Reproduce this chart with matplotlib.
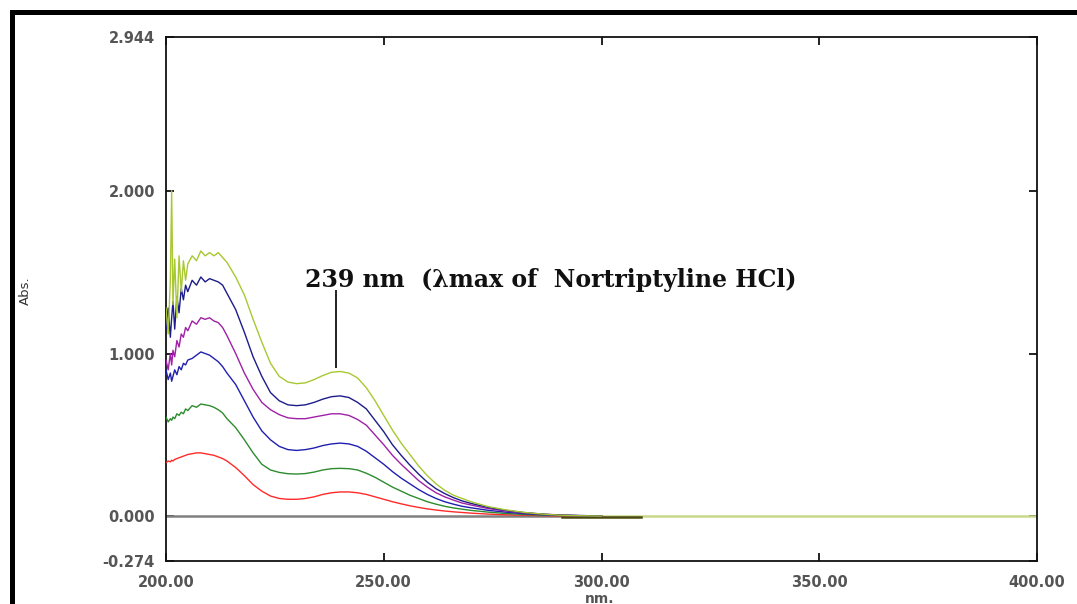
import matplotlib
matplotlib.use("Agg")
import matplotlib.pyplot as plt
from matplotlib.patches import Rectangle

# ---------------- data ----------------
WL = [200, 200.5, 201, 201.3, 201.6, 202, 202.5, 203, 203.5, 204, 204.5, 205,
      206, 207, 208, 209, 210, 211, 212, 213, 214,
      216, 218, 220, 222, 224, 226, 228, 230, 232, 234, 236, 238, 240, 242, 244,
      246, 248, 250, 252, 254, 256, 258, 260, 262, 264, 266, 268, 270,
      274, 278, 282, 286, 290, 295, 300]

ABS_6 = [1.28, 1.12, 1.45, 2.00, 1.30, 1.58, 1.22, 1.60, 1.38, 1.57, 1.45, 1.55,
         1.60, 1.57, 1.63, 1.60, 1.62, 1.60, 1.62, 1.59, 1.56,
         1.47, 1.36, 1.21, 1.07, 0.94, 0.86, 0.825, 0.815, 0.82, 0.84, 0.865, 0.885, 0.89, 0.88, 0.85,
         0.79, 0.71, 0.62, 0.53, 0.45, 0.38, 0.31, 0.25, 0.20, 0.16, 0.13, 0.11, 0.09,
         0.06, 0.04, 0.025, 0.015, 0.008, 0.004, 0.002]

ABS_5 = [1.15, 1.28, 1.10, 1.22, 1.32, 1.15, 1.35, 1.25, 1.40, 1.33, 1.42, 1.38,
         1.45, 1.42, 1.47, 1.44, 1.46, 1.45, 1.44, 1.42, 1.37,
         1.27, 1.13, 0.98, 0.86, 0.76, 0.71, 0.685, 0.68, 0.685, 0.70, 0.72, 0.735, 0.74, 0.73, 0.70,
         0.66, 0.59, 0.52, 0.44, 0.375, 0.315, 0.26, 0.21, 0.17, 0.14, 0.115, 0.095, 0.08,
         0.055, 0.037, 0.024, 0.015, 0.009, 0.005, 0.003]

ABS_4 = [0.96, 0.90, 1.00, 0.93, 1.02, 0.98, 1.08, 1.04, 1.12, 1.10, 1.16, 1.14,
         1.20, 1.18, 1.22, 1.21, 1.22, 1.20, 1.19, 1.16, 1.11,
         1.00, 0.88, 0.78, 0.70, 0.655, 0.625, 0.605, 0.60, 0.60, 0.61, 0.62, 0.63, 0.63, 0.62, 0.595,
         0.56, 0.50, 0.44, 0.375, 0.32, 0.27, 0.22, 0.18, 0.145, 0.12, 0.10, 0.082, 0.07,
         0.048, 0.033, 0.022, 0.014, 0.008, 0.005, 0.003]

ABS_3 = [0.90, 0.84, 0.88, 0.83, 0.86, 0.90, 0.87, 0.92, 0.90, 0.94, 0.93, 0.96,
         0.97, 0.99, 1.01, 1.00, 0.99, 0.97, 0.95, 0.92, 0.88,
         0.81, 0.71, 0.61, 0.525, 0.47, 0.43, 0.41, 0.405, 0.41, 0.42, 0.435, 0.445, 0.45, 0.445, 0.43,
         0.40, 0.36, 0.32, 0.275, 0.235, 0.20, 0.165, 0.135, 0.11, 0.09, 0.075, 0.062, 0.053,
         0.037, 0.026, 0.017, 0.011, 0.007, 0.004, 0.002]

ABS_2 = [0.61, 0.58, 0.60, 0.59, 0.61, 0.60, 0.63, 0.62, 0.64, 0.63, 0.66, 0.65,
         0.68, 0.67, 0.69, 0.685, 0.68, 0.67, 0.655, 0.635, 0.60,
         0.545, 0.47, 0.39, 0.32, 0.285, 0.27, 0.262, 0.26, 0.263, 0.272, 0.285, 0.293, 0.295, 0.293, 0.285,
         0.265, 0.24, 0.21, 0.18, 0.155, 0.13, 0.11, 0.09, 0.075, 0.062, 0.052, 0.044, 0.037,
         0.026, 0.018, 0.012, 0.008, 0.005, 0.003, 0.002]

ABS_1 = [0.33, 0.34, 0.335, 0.345, 0.34, 0.35, 0.355, 0.36, 0.365, 0.37, 0.375, 0.38,
         0.385, 0.39, 0.39, 0.385, 0.38, 0.375, 0.365, 0.355, 0.34,
         0.30, 0.25, 0.195, 0.155, 0.125, 0.11, 0.105, 0.105, 0.11, 0.12, 0.135, 0.145, 0.15, 0.15, 0.145,
         0.135, 0.12, 0.105, 0.09, 0.077, 0.065, 0.055, 0.046, 0.039, 0.033, 0.028, 0.024, 0.02,
         0.014, 0.01, 0.007, 0.005, 0.003, 0.002, 0.001]

SERIES = [ABS_1, ABS_2, ABS_3, ABS_4, ABS_5, ABS_6]
COLORS = ["#ff2a2a", "#2e8b2e", "#2020b0", "#a020a8", "#1c1c8a", "#a8c832"]

BASELINE_WL = [200, 291]
BASELINE_ABS = [0.0, 0.0]
TAIL_WL = [291, 309]
TAIL_ABS = [-0.004, -0.004]
EXT_WL = [300, 400]
EXT_ABS = [0.0, 0.0]

XTICKS = [200, 250, 300, 350, 400]
XTICK_LABELS = ["200.00", "250.00", "300.00", "350.00", "400.00"]
YTICKS = [-0.274, 0.0, 1.0, 2.0, 2.944]
YTICK_LABELS = ["-0.274", "0.000", "1.000", "2.000", "2.944"]

PEAK_WL = 239
PEAK_LINE = [0.91, 1.39]
LABEL = "239 nm  (\u03bbmax of  Nortriptyline HCl)"

# ---------------- figure ----------------
W, H = 1077, 604
fig = plt.figure(figsize=(W / 100, H / 100), dpi=100)
fig.patch.set_facecolor("white")

ax = fig.add_axes([166 / W, 1 - 561 / H, (1037 - 166) / W, (561 - 37) / H])

ax.plot(BASELINE_WL, BASELINE_ABS, color="#808080", lw=1.8, zorder=2)
ax.plot(EXT_WL, EXT_ABS, color="#c8d88a", lw=1.8, zorder=2)
ax.plot(TAIL_WL, TAIL_ABS, color="#4a4a10", lw=1.8, zorder=3)

for vals, c in zip(SERIES, COLORS):
    ax.plot(WL, vals, color=c, lw=1.0, zorder=4)

ax.set_xlim(200, 400)
ax.set_ylim(-0.274, 2.944)
ax.set_xticks(XTICKS)
ax.set_xticklabels(XTICK_LABELS)
ax.set_yticks(YTICKS)
ax.set_yticklabels(YTICK_LABELS)

for s in ax.spines.values():
    s.set_linewidth(1.3)
    s.set_color("#111111")

ax.tick_params(axis="both", direction="in", length=6, width=1.3,
               top=True, right=True, colors="#111111",
               labelcolor="#555555", labelsize=10.5)
ax.tick_params(axis="x", pad=10)
ax.tick_params(axis="y", pad=8)
for lab in ax.get_xticklabels() + ax.get_yticklabels():
    lab.set_fontweight("bold")
    lab.set_family("DejaVu Sans")

fig.text(600 / W, 1 - 599 / H, "nm.", ha="center", va="center",
         color="#555555", fontsize=10, fontweight="bold")
fig.text(25 / W, 1 - 291 / H, "Abs.", rotation=90, ha="center", va="center",
         fontsize=9.5, color="#333333")

ax.vlines(PEAK_WL, PEAK_LINE[0], PEAK_LINE[1], color="#111111", lw=1.3, zorder=5)
ax.text(231.9, 1.45, LABEL, ha="left", va="center", fontsize=17,
        fontweight="bold", family="DejaVu Serif", color="#111111", zorder=6)

# outer black frame (partially cropped in the reference)
fig.patches.append(Rectangle((12 / W, -0.2), 1.3, 1 - 12.5 / H + 0.2,
                             transform=fig.transFigure, fill=False,
                             edgecolor="black", lw=3.6, clip_on=False))

fig.savefig("out.png", dpi=100, facecolor="white")
